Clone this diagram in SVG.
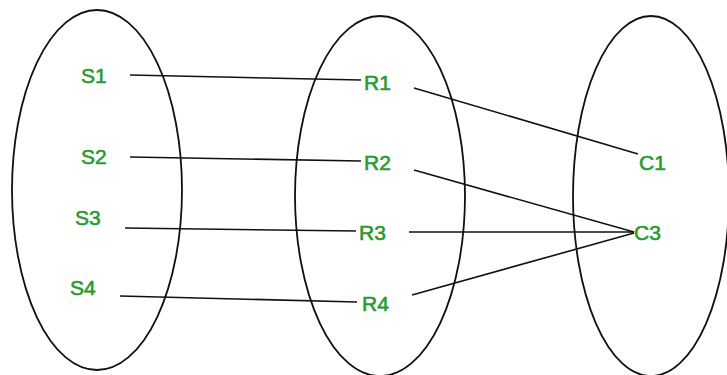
<svg xmlns="http://www.w3.org/2000/svg" width="727" height="375" viewBox="0 0 727 375">
<style>
.set{fill:none;stroke:#111;stroke-width:1.8}
.lbl{font-family:"Liberation Sans",Arial,sans-serif;font-size:21px;fill:#2a9a2e;stroke:#2a9a2e;stroke-width:0.6}
.con line{stroke:#111;stroke-width:1.6}
</style>
<rect width="727" height="375" fill="#fff"/>
<g id="set-S"><ellipse class="set" cx="97" cy="190" rx="85" ry="180"/></g>
<g id="set-R"><ellipse class="set" cx="380" cy="196" rx="85" ry="180"/></g>
<g id="set-C"><ellipse class="set" cx="651" cy="196" rx="78" ry="180"/></g>
<g class="con" id="connectors">
<line x1="130" y1="75" x2="361" y2="80"/>
<line x1="130" y1="157" x2="361" y2="161"/>
<line x1="125" y1="228" x2="356" y2="231"/>
<line x1="120" y1="296" x2="357" y2="302"/>
<line x1="414" y1="88" x2="638" y2="154"/>
<line x1="414" y1="170" x2="634" y2="232"/>
<line x1="409" y1="232" x2="634" y2="232"/>
<line x1="412" y1="295" x2="634" y2="233"/>
</g>
<g id="S1"><text class="lbl" x="81" y="83">S1</text></g>
<g id="S2"><text class="lbl" x="81" y="164">S2</text></g>
<g id="S3"><text class="lbl" x="75" y="225">S3</text></g>
<g id="S4"><text class="lbl" x="70" y="295">S4</text></g>
<g id="R1"><text class="lbl" x="364" y="90">R1</text></g>
<g id="R2"><text class="lbl" x="364" y="170">R2</text></g>
<g id="R3"><text class="lbl" x="359" y="240">R3</text></g>
<g id="R4"><text class="lbl" x="362" y="311">R4</text></g>
<g id="C1"><text class="lbl" x="639" y="170">C1</text></g>
<g id="C3"><text class="lbl" x="634" y="240">C3</text></g>
</svg>
